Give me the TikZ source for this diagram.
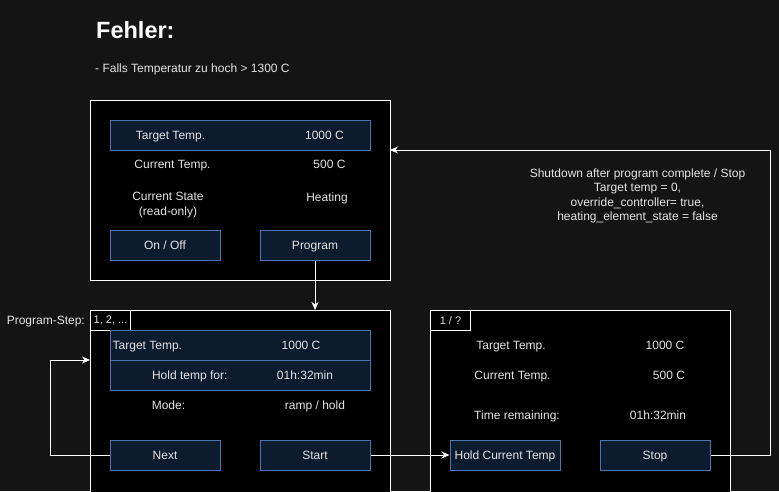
\documentclass[tikz,border=0pt]{standalone}
\usepackage{fontspec}
\setmainfont{Liberation Sans}
\usetikzlibrary{arrows.meta}
\definecolor{bgc}{RGB}{20,20,20}
\definecolor{btnfill}{RGB}{13,27,46}
\definecolor{btnline}{RGB}{76,118,176}
\definecolor{txt}{RGB}{228,228,228}
\tikzset{
  panel/.style={draw=white, fill=black, line width=1pt, anchor=north west, inner sep=0pt},
  btn/.style={draw=btnline, fill=btnfill, line width=1pt, minimum width=110pt, minimum height=30pt, inner sep=0pt, text=txt, font=\fontsize{12}{14}\selectfont, text height=8.6pt, text depth=0pt},
  rowbox/.style={draw=btnline, fill=btnfill, line width=1pt, minimum width=260pt, minimum height=30pt, inner sep=0pt, anchor=north west},
  lbl/.style={text=txt, font=\fontsize{12}{14}\selectfont, inner sep=0pt, text height=8.6pt, text depth=0pt},
  mlbl/.style={text=txt, font=\fontsize{12}{14.5}\selectfont, inner sep=0pt, align=center},
  tab/.style={draw=white, fill=black, line width=1pt, minimum width=40pt, minimum height=20pt, inner sep=0pt, anchor=north west, text=txt, font=\fontsize{11}{13}\selectfont},
  arr/.style={draw=white, line width=1pt, -{Stealth[length=8pt,width=7pt,inset=2.5pt]}},
}
\begin{document}
\begin{tikzpicture}[x=1pt,y=-1pt]
\fill[bgc] (0,0) rectangle (779,491);
\useasboundingbox (0,0) rectangle (779,491);
\clip (0,0) rectangle (779,491);

% header
\node[anchor=west, text=white, font=\fontsize{23.5}{26}\selectfont\bfseries, inner sep=0pt, text height=17pt, text depth=0pt] (title) at (96,30) {Fehler:};
\node[anchor=west, text=txt, font=\fontsize{12}{14}\selectfont, inner sep=0pt, text height=8.6pt, text depth=0pt] (sub) at (95,68) {- Falls Temperatur zu hoch > 1300 C};

% panel 1
\node[panel, minimum width=300pt, minimum height=180pt] (box1) at (90,100) {};
\node[rowbox] (r1) at (110,120) {};
\node[lbl] (t1a) at (170.5,135) {Target Temp.};
\node[lbl] (t1b) at (324.5,135) {1000 C};
\node[lbl] (t2a) at (172.5,164) {Current Temp.};
\node[lbl] (t2b) at (329.5,164) {500 C};
\node[mlbl] (t3a) at (168,205) {Current State\\(read-only)};
\node[lbl] (t3b) at (327,197.5) {Heating};
\node[btn] (onoff) at (165,245) {On / Off};
\node[btn] (prog) at (315,245) {Program};

% panel 2
\node[panel, minimum width=300pt, minimum height=190pt] (box2) at (90,310) {};
\node[tab] (tab2) at (90,310) {1, 2, ...};
\node[lbl, anchor=east] (pstep) at (85,320) {Program-Step:};
\node[rowbox] (r2) at (110,330) {};
\node[rowbox] (r3) at (110,360) {};
\node[lbl, anchor=west] (s1a) at (112.5,345) {Target Temp.};
\node[lbl] (s1b) at (301,345) {1000 C};
\node[lbl] (s2a) at (189.7,375) {Hold temp for:};
\node[lbl] (s2b) at (305,375) {01h:32min};
\node[lbl] (s3a) at (168.5,405) {Mode:};
\node[lbl] (s3b) at (315,405) {ramp / hold};
\node[btn] (next) at (165,455) {Next};
\node[btn] (start) at (315,455) {Start};

% panel 3
\node[panel, minimum width=300pt, minimum height=190pt] (box3) at (430,310) {};
\node[tab] (tab3) at (430,310) {1 / ?};
\node[lbl] (u1a) at (511,345) {Target Temp.};
\node[lbl] (u1b) at (665,345) {1000 C};
\node[lbl] (u2a) at (512.5,375) {Current Temp.};
\node[lbl] (u2b) at (669,375) {500 C};
\node[lbl] (u3a) at (517,415) {Time remaining:};
\node[lbl] (u3b) at (658,415) {01h:32min};
\node[btn] (hold) at (505,455) {Hold Current Temp};
\node[btn] (stop) at (655,455) {Stop};

% shutdown label
\node[mlbl] (shut) at (637.5,196) {Shutdown after program complete / Stop\\Target temp = 0,\\override\_controller= true,\\heating\_element\_state = false};

% connectors
\coordinate (b2top) at (315,310);
\coordinate (b1in) at (390,150);
\coordinate (b2in) at (90,360);
\coordinate (stopc) at (770,455);
\coordinate (nextc) at (50,455);
\draw[arr] (prog.south) -- (b2top);
\draw[arr] (start.east) -- (hold.west);
\draw[arr] (stop.east) -- (stopc) |- (b1in);
\draw[arr] (next.west) -- (nextc) |- (b2in);
\end{tikzpicture}
\end{document}
